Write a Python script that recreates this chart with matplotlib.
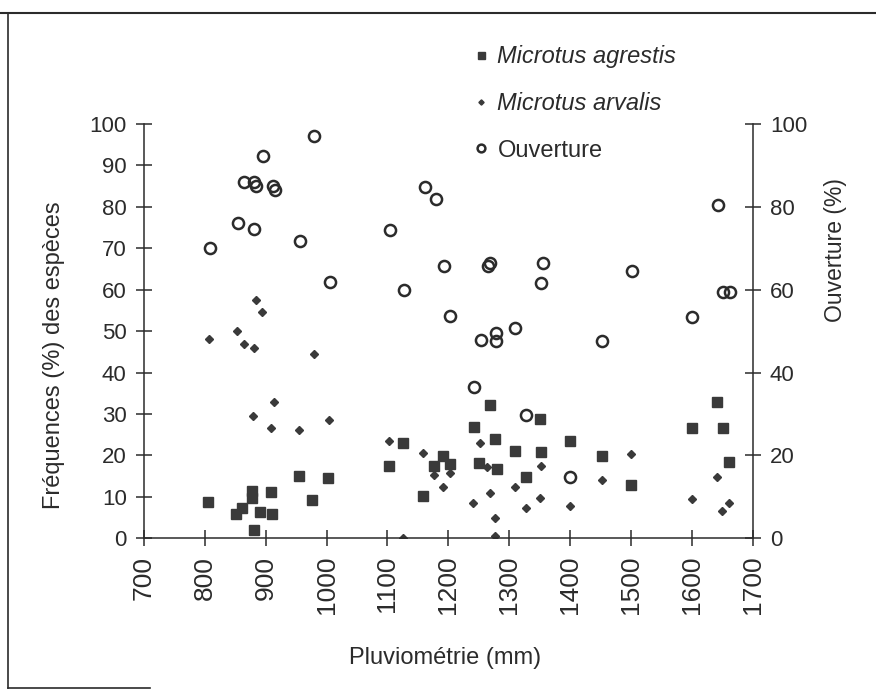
import matplotlib
matplotlib.use("Agg")
import matplotlib.pyplot as plt
from matplotlib.lines import Line2D

plt.rcParams['font.family'] = ['Liberation Sans', 'DejaVu Sans']

# Microtus agrestis (squares), left axis
agrestis_x = [805, 851, 861, 878, 878, 891, 911, 908, 880, 954, 976, 1003,
              1102, 1126, 1158, 1176, 1192, 1202, 1242, 1251, 1269, 1277, 1280,
              1310, 1327, 1351, 1353, 1400, 1452, 1500, 1601, 1642, 1651, 1661]
agrestis_y = [8.8, 5.9, 7.4, 9.8, 11.4, 6.3, 5.9, 11.2, 2.0, 15.1, 9.2, 14.6,
              17.4, 23.1, 10.1, 17.4, 19.9, 17.9, 26.9, 18.2, 32.1, 24.0, 16.8,
              21.1, 14.9, 28.7, 20.9, 23.5, 19.9, 12.8, 26.7, 33.0, 26.7, 18.4]

# Microtus arvalis (diamonds), left axis
arvalis_x = [807, 853, 864, 880, 884, 894, 979, 913, 879, 909, 955, 1004,
             1103, 1125, 1159, 1176, 1192, 1202, 1241, 1252, 1264, 1268, 1276,
             1277, 1310, 1327, 1350, 1353, 1400, 1452, 1500, 1601, 1642, 1650, 1661]
arvalis_y = [48.0, 50.1, 46.9, 45.9, 57.5, 54.7, 44.4, 32.8, 29.4, 26.6, 26.1, 28.5,
             23.6, 0.0, 20.5, 15.3, 12.3, 15.7, 8.4, 22.9, 17.1, 10.9, 0.6,
             5.0, 12.3, 7.4, 9.8, 17.5, 7.8, 14.1, 20.3, 9.6, 14.9, 6.6, 8.6]

# Ouverture (open circles), right axis
ouverture_x = [808, 854, 864, 881, 884, 881, 895, 912, 915, 957, 980, 1005,
               1105, 1127, 1161, 1179, 1193, 1203, 1243, 1253, 1265, 1269, 1278,
               1278, 1310, 1327, 1352, 1355, 1400, 1453, 1502, 1601, 1644, 1651, 1663]
ouverture_y = [70.0, 76.2, 85.9, 86.1, 85.0, 74.7, 92.3, 85.1, 84.0, 71.8, 97.1, 61.9,
               74.4, 59.9, 84.8, 81.8, 65.7, 53.7, 36.6, 47.9, 65.6, 66.5, 49.5,
               47.5, 50.7, 29.8, 61.7, 66.4, 14.9, 47.5, 64.5, 53.3, 80.4, 59.4, 59.4]

x_ticks = list(range(700, 1701, 100))
left_ticks = list(range(0, 101, 10))
right_ticks = list(range(0, 101, 20))

ink = "#2b2b2b"
mark = "#3a3a3a"

fig = plt.figure(figsize=(8.76, 6.91), dpi=100)
ax = fig.add_axes([0.1644, 0.221, 0.6947, 0.5996])
ax2 = ax.twinx()

h1, = ax.plot(agrestis_x, agrestis_y, ls="none", marker="s", ms=7.2,
              mfc=mark, mec=mark, label="Microtus agrestis")
h2, = ax.plot(arvalis_x, arvalis_y, ls="none", marker="D", ms=3.8,
              mfc=mark, mec=mark, label="Microtus arvalis")
h3, = ax2.plot(ouverture_x, ouverture_y, ls="none", marker="o", ms=8,
               mfc="none", mec=ink, mew=1.8, label="Ouverture")

ax.set_xlim(700, 1700)
ax.set_ylim(0, 100)
ax2.set_ylim(0, 100)
ax.set_xticks(x_ticks)
ax.set_yticks(left_ticks)
ax2.set_yticks(right_ticks)

for a in (ax, ax2):
    a.spines["top"].set_visible(False)
    for s in a.spines.values():
        s.set_color(ink)
        s.set_linewidth(1.1)
ax.spines["right"].set_visible(False)
ax2.spines["left"].set_visible(False)
ax2.spines["bottom"].set_visible(False)

ax.tick_params(axis="y", direction="inout", length=11, width=1.1, color=ink,
               labelsize=16, labelcolor=ink, pad=7)
ax.tick_params(axis="x", direction="inout", length=11, width=1.1, color=ink,
               labelsize=19, labelcolor=ink, pad=7, labelrotation=90)
ax2.tick_params(axis="y", direction="inout", length=11, width=1.1, color=ink,
                labelsize=16, labelcolor=ink, pad=7)

ax.set_ylabel("Fréquences (%) des espèces", fontsize=17, color=ink)
ax.yaxis.set_label_coords(-0.13, 0.442)
ax2.set_ylabel("Ouverture (%)", fontsize=16.5, color=ink)
ax2.yaxis.set_label_coords(1.117, 0.696)
ax.set_xlabel("Pluviométrie (mm)", fontsize=17, color=ink)
ax.xaxis.set_label_coords(0.495, -0.262)

leg = fig.legend([h1, h2, h3], ["Microtus agrestis", "Microtus arvalis", "Ouverture"],
                 loc="upper left", bbox_to_anchor=(0.5395, 0.935), frameon=False,
                 fontsize=17, handlelength=0.75, handletextpad=0.3, labelspacing=1.03,
                 borderpad=0, borderaxespad=0, markerscale=0.7)
for t in leg.get_texts():
    t.set_color(ink)
leg.get_texts()[0].set_style("italic")
leg.get_texts()[1].set_style("italic")

# scanned page frame
fig.add_artist(Line2D([0, 1], [0.9812, 0.9812], transform=fig.transFigure, color=ink, lw=1.5))
fig.add_artist(Line2D([0.0091, 0.0091], [0.0043, 0.9812], transform=fig.transFigure, color=ink, lw=1.2))
fig.add_artist(Line2D([0.0091, 0.171], [0.0043, 0.0043], transform=fig.transFigure, color=ink, lw=1.2))

fig.savefig("out.png", dpi=100)
